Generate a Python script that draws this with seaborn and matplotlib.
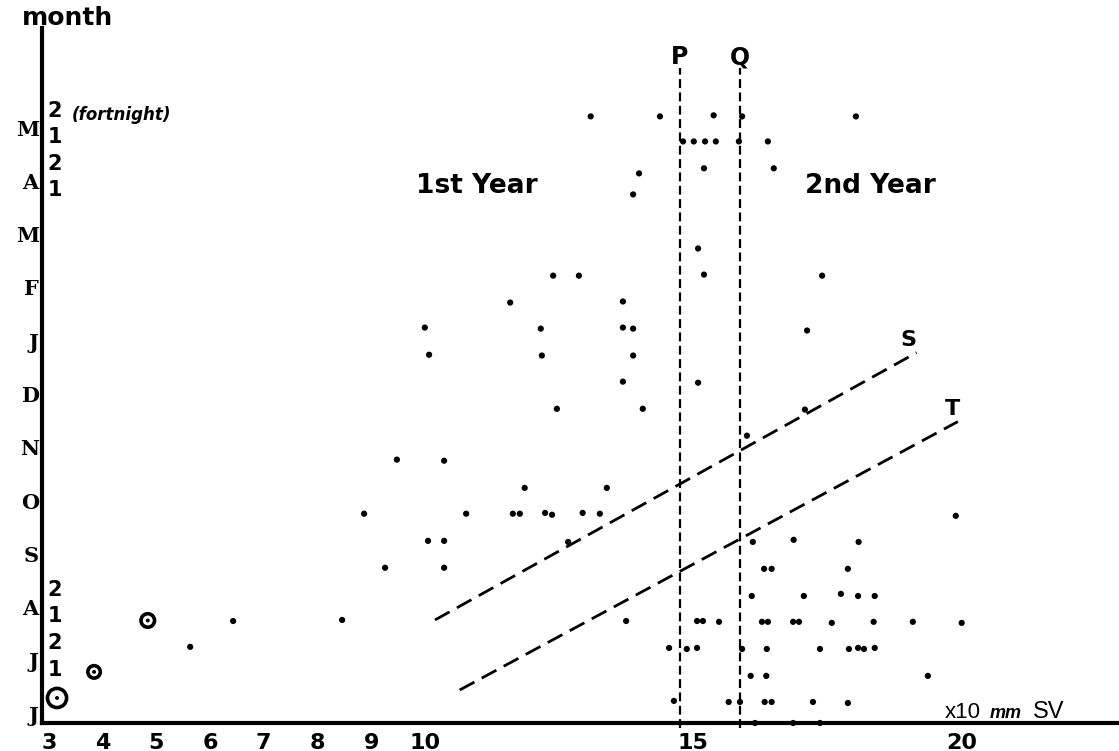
import matplotlib
matplotlib.use('Agg')
import pandas as pd
import matplotlib.pyplot as plt
import matplotlib.transforms as mtransforms
import seaborn as sns

# Body size (x10 mm SV) against time (fortnights counted from June)
sv = [5.76, 6.56, 8.59, 9.00, 9.39, 9.61, 10.13, 10.21, 10.19, 10.49, 10.49, 10.49, 10.90,
      11.72, 11.77, 11.90, 11.99, 12.29, 12.31, 12.37, 12.50, 12.52, 12.59, 12.80, 13.00,
      13.07, 13.22, 13.39, 13.52, 13.82, 13.82, 13.82, 13.88, 14.01, 14.01, 14.01, 14.12,
      14.19, 14.51, 14.68, 14.77, 14.94, 15.01, 15.14, 15.20, 15.20, 15.22, 15.22, 15.31,
      15.33, 15.33, 15.35, 15.51, 15.55, 15.61, 15.79, 15.98, 16.00, 16.04, 16.04, 16.13,
      16.20, 16.22, 16.24, 16.28, 16.41, 16.45, 16.46, 16.49, 16.50, 16.52, 16.52, 16.59,
      16.59, 16.63, 16.99, 16.99, 17.00, 17.10, 17.19, 17.21, 17.25, 17.36, 17.49, 17.49,
      17.53, 17.71, 17.88, 18.01, 18.01, 18.03, 18.16, 18.20, 18.20, 18.21, 18.31, 18.49,
      18.51, 18.51, 19.22, 19.50, 20.02, 20.13]
fortnight = [2.86, 3.83, 3.87, 7.86, 5.83, 9.89, 14.85, 13.83, 6.84, 6.84, 9.85, 5.83, 7.86,
             15.79, 7.86, 7.86, 8.83, 14.81, 13.80, 7.89, 7.82, 16.80, 11.80, 6.80, 16.80,
             7.89, 22.78, 7.86, 8.83, 15.83, 14.85, 12.82, 3.83, 14.81, 13.80, 19.85, 20.64,
             11.80, 22.78, 2.82, 0.83, 21.84, 2.78, 21.84, 2.82, 3.83, 12.78, 17.82, 3.83,
             20.83, 16.84, 21.84, 22.82, 21.84, 3.80, 0.79, 21.84, 0.79, 22.78, 2.78, 10.79,
             1.77, 4.77, 6.80, 0.00, 3.80, 5.79, 0.79, 1.77, 2.78, 3.80, 21.84, 5.79,
             0.79, 20.83, 3.80, 0.00, 6.88, 3.80, 4.77, 11.77, 14.74, 0.79, 2.78, 0.00,
             16.80, 3.76, 4.85, 5.79, 0.75, 2.78, 22.78, 4.77, 2.82, 6.80, 2.78, 3.80,
             4.77, 2.82, 3.80, 1.77, 7.78, 3.76]

# ringed specimens near the origin
ring_sv = [3.28, 3.97, 4.97]
ring_fortnight = [0.94, 1.92, 3.85]

months = ['J', 'J', 'A', 'S', 'O', 'N', 'D', 'J', 'F', 'M', 'A', 'M']
half_ticks = [2, 3, 4, 5, 20, 21, 22, 23]
half_labels = ['1', '2', '1', '2', '1', '2', '1', '2']
sv_ticks = list(range(3, 24))
sv_labels = {3: '3', 4: '4', 5: '5', 6: '6', 7: '7', 8: '8', 9: '9', 10: '10', 15: '15', 20: '20'}

# guide lines
p_sv, q_sv = 14.88, 16.0
line_s_sv, line_s_fn = [10.32, 19.29], [3.87, 13.91]
line_t_sv, line_t_fn = [10.78, 20.06], [1.24, 11.32]

df = pd.DataFrame({'sv': sv, 'fortnight': fortnight})
rings = pd.DataFrame({'sv': ring_sv, 'fortnight': ring_fortnight})

sns.set_style('white')
plt.rcParams['font.family'] = ['DejaVu Sans']
plt.rcParams['text.color'] = 'black'
plt.rcParams['xtick.color'] = 'black'
plt.rcParams['ytick.color'] = 'black'

fig = plt.figure(figsize=(11.19, 7.51), dpi=100)
ax = fig.add_axes([42 / 1119, 28 / 751, 1077 / 1119, 695 / 751])

# dots
sns.scatterplot(data=df, x='sv', y='fortnight', color='black', s=20, edgecolor='none',
                ax=ax, clip_on=False, zorder=5)

# ringed points
sns.scatterplot(data=rings, x='sv', y='fortnight', s=[190, 80, 95], facecolor='white',
                edgecolor='black', linewidth=2.6, ax=ax, clip_on=False, zorder=5, legend=False)
sns.scatterplot(data=rings, x='sv', y='fortnight', s=8, color='black', edgecolor='none',
                ax=ax, clip_on=False, zorder=6)

# P / Q verticals
for xv, lab in [(p_sv, 'P'), (q_sv, 'Q')]:
    ax.plot([xv, xv], [-0.2, 24.6], color='black', lw=1.6, ls=(0, (4, 2)), clip_on=False)
    ax.text(xv, 25.0, lab, ha='center', va='center', fontsize=17, fontweight='bold')

# S / T slanted lines
sns.lineplot(x=line_s_sv, y=line_s_fn, color='black', lw=2.0, ax=ax, estimator=None)
sns.lineplot(x=line_t_sv, y=line_t_fn, color='black', lw=2.0, ax=ax, estimator=None)
for l in ax.lines[-2:]:
    l.set_linestyle((0, (6, 3)))
ax.text(19.13, 14.4, 'S', ha='center', va='center', fontsize=16, fontweight='bold')
ax.text(19.95, 11.8, 'T', ha='center', va='center', fontsize=16, fontweight='bold')

ax.text(11.10, 20.15, '1st Year', ha='center', va='center', fontsize=19, fontweight='bold')
ax.text(18.42, 20.15, '2nd Year', ha='center', va='center', fontsize=19, fontweight='bold')

# axes
ax.set_xlim(3, 23.06)
ax.set_ylim(0, 26.1)
sns.despine(ax=ax)
for side in ['left', 'bottom']:
    ax.spines[side].set_linewidth(3)
    ax.spines[side].set_color('black')
ax.set_xlabel('')
ax.set_ylabel('')

ax.set_xticks(sv_ticks)
ax.set_xticklabels([sv_labels.get(t, '') for t in sv_ticks], fontsize=16, fontweight='bold')
ax.tick_params(axis='x', direction='out', length=6, width=1.8, pad=1, colors='black')
offset = mtransforms.ScaledTranslation(5 / 72, 0, fig.dpi_scale_trans)
for lbl in ax.get_xticklabels():
    lbl.set_transform(lbl.get_transform() + offset)

ax.set_yticks(range(1, 25))
ax.set_yticklabels([])
ax.tick_params(axis='y', direction='in', length=5, width=1.8, colors='black')

for i, m in enumerate(months):
    ax.text(2.94, 2 * i + 0.28, m, ha='right', va='center', fontsize=15,
            fontweight='bold', family='DejaVu Serif', clip_on=False)
for t, lab in zip(half_ticks, half_labels):
    ax.text(3.1, t, lab, ha='left', va='center', fontsize=15, fontweight='bold')
ax.text(3.56, 22.85, '(fortnight)', ha='left', va='center', fontsize=12,
        fontweight='bold', style='italic')

fig.text(67 / 1119, 1 - 18 / 751, 'month', ha='center', va='center', fontsize=18,
         fontweight='bold')

# unit label
ax.text(19.82, 0.2, 'x10', ha='left', va='baseline', fontsize=16, family='Liberation Sans')
ax.text(20.66, 0.2, 'mm', ha='left', va='baseline', fontsize=13, style='italic',
        fontweight='bold', family='Liberation Sans')
ax.text(21.45, 0.2, 'SV', ha='left', va='baseline', fontsize=17, family='Liberation Sans')

fig.savefig('out.png', dpi=100)
